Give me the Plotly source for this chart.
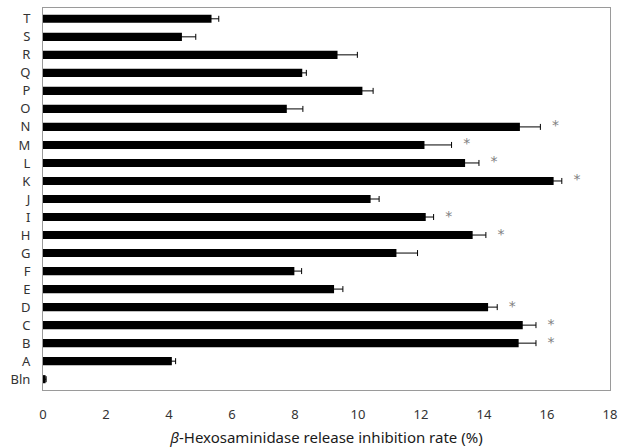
import plotly.graph_objects as go

categories = ["Bln", "A", "B", "C", "D", "E", "F", "G", "H", "I", "J",
              "K", "L", "M", "N", "O", "P", "Q", "R", "S", "T"]
values = [0.08, 4.09, 15.10, 15.23, 14.13, 9.24, 7.98, 11.22, 13.64, 12.15, 10.40,
          16.21, 13.40, 12.11, 15.14, 7.74, 10.14, 8.23, 9.35, 4.41, 5.35]
errors = [0.02, 0.12, 0.55, 0.42, 0.29, 0.28, 0.23, 0.67, 0.42, 0.25, 0.27,
          0.26, 0.44, 0.86, 0.65, 0.51, 0.34, 0.13, 0.63, 0.44, 0.23]
significant = ["B", "C", "D", "H", "I", "K", "L", "M", "N"]
x_ticks = [0, 2, 4, 6, 8, 10, 12, 14, 16, 18]

star_offset = 0.48
star_cats = [c for c in categories if c in significant]
star_x = [values[categories.index(c)] + errors[categories.index(c)] + star_offset for c in star_cats]

fig = go.Figure()
fig.add_trace(go.Bar(
    y=categories, x=values, orientation="h",
    marker=dict(color="black", line=dict(width=0)),
    width=0.45,
    error_x=dict(type="data", array=errors, visible=True, color="black",
                 thickness=1, width=3),
))
fig.add_trace(go.Scatter(
    y=star_cats, x=star_x, mode="text", text=["*"] * len(star_cats),
    textfont=dict(size=14, color="#808080", family="DejaVu Sans"),
    textposition="middle center", hoverinfo="skip",
))

fig.update_layout(
    width=618, height=447,
    margin=dict(l=43, r=8, t=8, b=57),
    paper_bgcolor="white", plot_bgcolor="white",
    showlegend=False,
    font=dict(family="Noto Sans, DejaVu Sans, sans-serif", size=13, color="#333333"),
    bargap=0.55,
)
fig.update_xaxes(
    range=[0, 18], tickvals=x_ticks, ticktext=[str(t) for t in x_ticks],
    showgrid=False, zeroline=False, automargin=False,
    showline=True, linecolor="#9a9a9a", linewidth=1, mirror=True,
    ticks="", ticklen=0, ticklabelstandoff=12,
    tickfont=dict(size=13, color="#333333"),
    title=dict(text="<i>β</i>-Hexosaminidase release inhibition rate (%)",
               font=dict(size=15, color="#1a1a1a"), standoff=11),
)
fig.update_yaxes(
    type="category", categoryorder="array", categoryarray=categories,
    range=[-0.6, 20.6], automargin=False,
    showgrid=False, zeroline=False,
    showline=True, linecolor="#9a9a9a", linewidth=1, mirror=True,
    ticks="", ticklabelstandoff=9,
    tickfont=dict(size=13, color="#333333"),
)

fig.write_html("out.html")
